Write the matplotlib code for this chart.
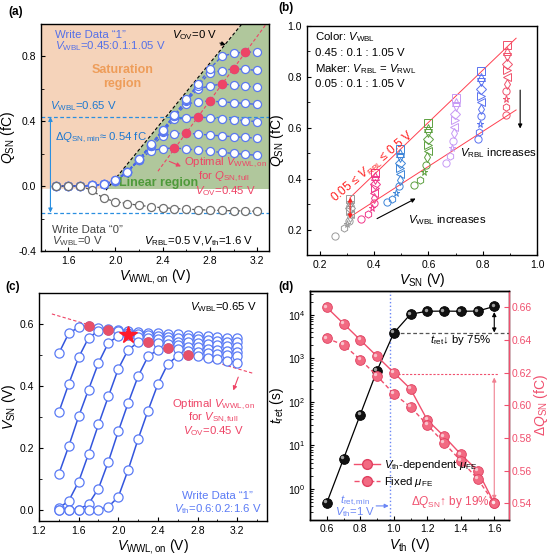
import matplotlib
matplotlib.use("Agg")
import matplotlib.pyplot as plt
import numpy as np
from matplotlib.ticker import MultipleLocator, FormatStrFormatter
from matplotlib.transforms import ScaledTranslation
from matplotlib.lines import Line2D

plt.rcParams["font.family"] = ["Liberation Sans", "DejaVu Sans"]
plt.rcParams["mathtext.fontset"] = "custom"
plt.rcParams["mathtext.rm"] = "Liberation Sans"
plt.rcParams["mathtext.it"] = "Liberation Sans:italic"
plt.rcParams["mathtext.bf"] = "Liberation Sans:bold"
plt.rcParams["font.size"] = 8
plt.rcParams["xtick.direction"] = "in"
plt.rcParams["ytick.direction"] = "in"
plt.rcParams["xtick.labelsize"] = 7.5
plt.rcParams["ytick.labelsize"] = 7.5
plt.rcParams["axes.linewidth"] = 1.0

FS = 8.2  # annotation text size

# ---------------- (a) Q_SN vs V_WWL,on ----------------
vwwl_a = [1.5, 1.6, 1.7, 1.8, 1.9, 2.0, 2.1, 2.2, 2.3, 2.4, 2.5, 2.6, 2.7, 2.8, 2.9, 3.0, 3.1, 3.2]
q1_045 = [0, 0, 0, 0.005, 0.012, 0.03, 0.085, 0.16, 0.218, 0.232, 0.235, 0.229, 0.222, 0.215, 0.208, 0.202, 0.196, 0.19]
q1_055 = [0, 0, 0, 0.005, 0.012, 0.032, 0.087, 0.162, 0.245, 0.31, 0.324, 0.327, 0.321, 0.315, 0.31, 0.305, 0.3, 0.296]
q1_065 = [0, 0, 0, 0.005, 0.012, 0.033, 0.088, 0.163, 0.25, 0.335, 0.412, 0.42, 0.427, 0.42, 0.415, 0.41, 0.404, 0.398]
q1_075 = [0, 0, 0, 0.005, 0.012, 0.034, 0.089, 0.164, 0.252, 0.34, 0.43, 0.505, 0.522, 0.524, 0.52, 0.515, 0.51, 0.504]
q1_085 = [0, 0, 0, 0.005, 0.012, 0.035, 0.09, 0.165, 0.254, 0.343, 0.435, 0.525, 0.6, 0.618, 0.63, 0.624, 0.617, 0.61]
q1_095 = [0, 0, 0, 0.005, 0.012, 0.035, 0.09, 0.165, 0.255, 0.345, 0.438, 0.53, 0.62, 0.70, 0.712, 0.724, 0.72, 0.714]
q1_105 = [0, 0, 0, 0.005, 0.012, 0.035, 0.09, 0.166, 0.257, 0.348, 0.44, 0.535, 0.63, 0.725, 0.80, 0.82, 0.827, 0.827]
q1_curves = [q1_045, q1_055, q1_065, q1_075, q1_085, q1_095, q1_105]
opt_vwwl_a = [2.5, 2.6, 2.7, 2.8, 2.9, 3.0, 3.1]
q0_a = [0, 0, 0, -0.025, -0.075, -0.095, -0.108, -0.118, -0.127, -0.133, -0.138, -0.142, -0.145, -0.148, -0.15, -0.152, -0.153, -0.155]
vov0_line_x = [1.92, 3.07]
vov0_line_y = [-0.025, 1.0]
region_bottom = -0.016

# ---------------- (b) Q_SN vs V_SN ----------------
b_colors = ["#9a9a9a", "#f0388a", "#3d85d8", "#5da040", "#c79af5", "#5a72f0", "#f0506a"]
b_markers = ["s", "^", "v", "D", ">", "<", "d", "o", "*", "h", "o"]
vsn_b = [
    [0.312, 0.312, 0.312, 0.312, 0.312, 0.312, 0.311, 0.308, 0.300, 0.288, 0.257],
    [0.405, 0.405, 0.405, 0.403, 0.402, 0.400, 0.400, 0.398, 0.392, 0.377, 0.352],
    [0.497, 0.497, 0.497, 0.497, 0.496, 0.495, 0.494, 0.490, 0.482, 0.466, 0.448],
    [0.600, 0.600, 0.600, 0.600, 0.598, 0.597, 0.596, 0.593, 0.585, 0.568, 0.547],
    [0.700, 0.700, 0.700, 0.698, 0.697, 0.696, 0.695, 0.692, 0.688, 0.680, 0.665],
    [0.795, 0.795, 0.795, 0.795, 0.794, 0.794, 0.793, 0.792, 0.790, 0.788, 0.783],
    [0.888, 0.888, 0.888, 0.888, 0.888, 0.888, 0.888, 0.887, 0.887, 0.886, 0.885],
]
qsn_b = [
    [0.322, 0.310, 0.298, 0.285, 0.272, 0.260, 0.248, 0.235, 0.220, 0.205, 0.175],
    [0.422, 0.410, 0.395, 0.380, 0.362, 0.345, 0.325, 0.305, 0.285, 0.262, 0.243],
    [0.518, 0.500, 0.480, 0.460, 0.440, 0.418, 0.395, 0.370, 0.345, 0.320, 0.308],
    [0.619, 0.600, 0.578, 0.555, 0.532, 0.510, 0.485, 0.455, 0.425, 0.395, 0.374],
    [0.718, 0.700, 0.680, 0.655, 0.630, 0.605, 0.580, 0.550, 0.520, 0.490, 0.462],
    [0.824, 0.800, 0.778, 0.752, 0.725, 0.700, 0.672, 0.645, 0.615, 0.585, 0.554],
    [0.925, 0.900, 0.878, 0.852, 0.826, 0.800, 0.773, 0.745, 0.715, 0.683, 0.650],
]
upper_b_x, upper_b_y = [0.312, 0.923], [0.326, 0.952]
lower_b_x, lower_b_y = [0.312, 0.923], [0.250, 0.670]

# ---------------- (c) V_SN vs V_WWL,on ----------------
vwwl_c = [1.4, 1.5, 1.6, 1.7, 1.8, 1.9, 2.0, 2.1, 2.2, 2.3, 2.4, 2.5, 2.6, 2.7, 2.8, 2.9, 3.0, 3.1, 3.2]
vsn_c = [
    [0.505, 0.57, 0.589, 0.592, 0.588, 0.585, 0.581, 0.578, 0.575, 0.572, 0.57, 0.568, 0.566, 0.564, 0.562, 0.56, 0.558, 0.556, 0.554],
    [0.315, 0.406, 0.492, 0.555, 0.578, 0.581, 0.576, 0.572, 0.568, 0.565, 0.562, 0.559, 0.556, 0.554, 0.551, 0.548, 0.546, 0.543, 0.540],
    [0.115, 0.205, 0.301, 0.388, 0.474, 0.539, 0.561, 0.563, 0.558, 0.554, 0.55, 0.547, 0.543, 0.54, 0.537, 0.534, 0.531, 0.528, 0.525],
    [0.005, 0.028, 0.09, 0.18, 0.275, 0.366, 0.455, 0.517, 0.54, 0.543, 0.539, 0.535, 0.531, 0.527, 0.524, 0.52, 0.517, 0.513, 0.51],
    [0.0, 0.0, 0.0, 0.018, 0.068, 0.155, 0.253, 0.345, 0.431, 0.495, 0.517, 0.522, 0.518, 0.514, 0.51, 0.506, 0.502, 0.499, 0.495],
    [0.0, 0.0, 0.0, 0.0, 0.0, 0.009, 0.041, 0.129, 0.228, 0.32, 0.406, 0.471, 0.497, 0.499, 0.495, 0.49, 0.486, 0.481, 0.475],
]
opt_vwwl_c = [1.7, 1.9, 2.1, 2.3, 2.5, 2.7]
star_curve_c = 2

# ---------------- (d) t_ret and dQ_SN vs V_th ----------------
vth_d = [0.6, 0.7, 0.8, 0.9, 1.0, 1.1, 1.2, 1.3, 1.4, 1.5, 1.6]
tret_d = [0.48, 4.9, 51, 520, 3800, 10300, 12000, 12100, 12000, 12100, 15500]
dq_dep_d = [0.66, 0.65, 0.64, 0.63, 0.62, 0.61, 0.591, 0.581, 0.570, 0.560, 0.540]
dq_fix_d = [0.641, 0.637, 0.628, 0.618, 0.607, 0.599, 0.588, 0.577, 0.566, 0.555, 0.540]

W, H = 550, 559
fig = plt.figure(figsize=(W / 100, H / 100), dpi=100)


def frac(left, top, right, bottom):
    return [left / W, 1 - bottom / H, (right - left) / W, (bottom - top) / H]


def balls(ax, x, y, color, edge, ms=7, zorder=5):
    ax.plot(x, y, "o", color=color, mec=edge, mew=0.6, ms=ms, ls="none", zorder=zorder)
    off = ScaledTranslation(-1.1 / 72, 1.1 / 72, fig.dpi_scale_trans)
    ax.plot(x, y, "o", color="white", alpha=0.6, mec="none", ms=ms * 0.35, ls="none",
            transform=ax.transData + off, zorder=zorder + 0.1)


def arrow(ax, tip, tail, color, style="-|>"):
    ax.annotate("", xy=tip, xytext=tail,
                arrowprops=dict(arrowstyle=style, color=color, lw=0.8, mutation_scale=6,
                                shrinkA=0, shrinkB=0))


ax_a = fig.add_axes(frac(41, 24, 269, 251))
ax_b = fig.add_axes(frac(307, 26, 537, 255))
ax_c = fig.add_axes(frac(39, 293, 267, 521))
ax_d = fig.add_axes(frac(310, 291, 508.5, 519.5))

# ===== (a) =====
ax = ax_a
xmin_a, xmax_a, ymin_a, ymax_a = 1.37, 3.3, -0.4, 1.0
slope = (vov0_line_y[1] - vov0_line_y[0]) / (vov0_line_x[1] - vov0_line_x[0])
xb = vov0_line_x[0] + (region_bottom - vov0_line_y[0]) / slope
xt = vov0_line_x[0] + (ymax_a - vov0_line_y[0]) / slope
ax.fill([xmin_a, xb, xt, xmin_a], [region_bottom, region_bottom, ymax_a, ymax_a],
        color="#f5d3ba", lw=0, zorder=0)
ax.fill([xb, xmax_a, xmax_a, xt], [region_bottom, region_bottom, ymax_a, ymax_a],
        color="#b0c79c", lw=0, zorder=0)
ax.plot(vov0_line_x, vov0_line_y, "--", color="k", lw=0.8, dashes=(3, 2), zorder=2)

for q in q1_curves:
    ax.plot(vwwl_a, q, "--", color="#4a68e8", lw=1.0, dashes=(2.5, 1.5), zorder=3)
    ax.plot(vwwl_a, q, "o", mfc="white", mec="#5a78f0", mew=0.9, ms=5.8, ls="none", zorder=4)
opt_q = [q[vwwl_a.index(v)] for q, v in zip(q1_curves, opt_vwwl_a)]
ax.plot(opt_vwwl_a, opt_q, "o", color="#ee4466", mec="#ee4466", ms=5.8, ls="none", zorder=5)
fit = np.polyfit(opt_vwwl_a, opt_q, 1)
fx = np.array([2.36, 3.27])
ax.plot(fx, np.polyval(fit, fx), "--", color="#ee4466", lw=0.8, dashes=(3, 2), zorder=2)

ax.plot(vwwl_a, q0_a, "--", color="#555555", lw=0.9, dashes=(2.5, 1.5), zorder=3)
ax.plot(vwwl_a, q0_a, "o", mfc="white", mec="#707070", mew=0.9, ms=5.8, ls="none", zorder=4)

ax.axhline(0.427, color="#2a8fe0", ls="--", lw=0.9, dashes=(3, 2), zorder=2)
ax.axhline(-0.163, color="#2a8fe0", ls="--", lw=0.9, dashes=(3, 2), zorder=2)
arrow(ax, (1.45, 0.427), (1.45, -0.163), "#2a8fe0", "<|-|>")

ax.text(1.49, 0.933, "Write Data \u201c1\u201d", color="#5570e8", fontsize=FS, va="center")
ax.text(1.49, 0.861, r"$V_{\rm WBL}$=0.45:0.1:1.05 V", color="#5570e8", fontsize=FS, va="center")
ax.text(2.06, 0.718, "Saturation", color="#ee9d5a", fontsize=9, fontweight="bold", ha="center", va="center")
ax.text(2.06, 0.63, "region", color="#ee9d5a", fontsize=9, fontweight="bold", ha="center", va="center")
ax.text(1.445, 0.494, r"$V_{\rm WBL}$=0.65 V", color="#1e78d0", fontsize=FS, va="center")
ax.text(1.49, 0.30, r"Δ$Q_{\rm SN,min}$≈ 0.54 fC", color="#1e78d0", fontsize=FS, va="center")
ax.text(2.03, 0.018, "Linear region", color="#4e9a3a", fontsize=9, fontweight="bold", va="center")
ax.annotate(r"$V_{\rm OV}$=0 V", xy=(2.934, 0.871), xytext=(2.48, 0.933), va="center", fontsize=FS,
            arrowprops=dict(arrowstyle="-|>", color="k", lw=0.8, mutation_scale=6, shrinkA=0, shrinkB=0))
arrow(ax, (2.555, 0.122), (2.456, 0.153), "#ee4466")
ax.text(2.934, 0.142, r"Optimal $V_{\rm WWL,on}$", color="#ee4466", fontsize=FS, ha="center", va="center")
ax.text(2.92, 0.055, r"for $Q_{\rm SN,full}$", color="#ee4466", fontsize=FS, ha="center", va="center")
ax.text(2.934, -0.03, r"$V_{\rm OV}$=0.45 V", color="#ee4466", fontsize=FS, ha="center", va="center")
ax.text(1.46, -0.268, "Write Data \u201c0\u201d", color="#444444", fontsize=FS, va="center")
ax.text(1.46, -0.338, r"$V_{\rm WBL}$=0 V", color="#444444", fontsize=FS, va="center")
ax.text(3.17, -0.338, r"$V_{\rm RBL}$=0.5 V,$V_{\rm th}$=1.6 V", color="k", fontsize=FS, ha="right", va="center")

ax.set_xlim(xmin_a, xmax_a)
ax.set_ylim(ymin_a, ymax_a)
ax.set_xticks([1.6, 2.0, 2.4, 2.8, 3.2])
ax.xaxis.set_minor_locator(MultipleLocator(0.2))
ax.set_yticks([-0.4, 0.0, 0.4, 0.8])
ax.yaxis.set_minor_locator(MultipleLocator(0.2))
ax.yaxis.set_major_formatter(FormatStrFormatter("%.1f"))
ax.set_xlabel(r"$V_{\rm WWL,on}$ (V)", fontsize=10, labelpad=1)
ax.set_ylabel(r"$Q_{\rm SN}$ (fC)", fontsize=10, labelpad=1)

# ===== (b) =====
ax = ax_b
for c, xs, qs in zip(b_colors, vsn_b, qsn_b):
    for m, xv, qv in zip(b_markers, xs, qs):
        ax.plot(xv, qv, m, mfc="none", mec=c, mew=0.7, ms=5.2, zorder=3)
ax.plot(upper_b_x, upper_b_y, "-", color="#ff4050", lw=0.7, zorder=2)
ax.plot(lower_b_x, lower_b_y, "-", color="#ff4050", lw=0.7, zorder=2)
arrow(ax, (0.312, 0.326), (0.312, 0.243), "#ff2020", "<|-|>")
ax.text(0.395, 0.447, r"0.05 ≤ $V_{\rm RBL}$ ≤ 0.5 V", color="#ff2020", fontsize=8.6,
        rotation=40, ha="center", va="center")
arrow(ax, (0.553, 0.322), (0.411, 0.243), "k")
ax.text(0.671, 0.239, r"$V_{\rm WBL}$ increases", fontsize=FS, ha="center", va="center")
arrow(ax, (0.938, 0.597), (0.938, 0.748), "k")
ax.text(0.857, 0.50, r"$V_{\rm RBL}$ increases", fontsize=FS, ha="center", va="center")
ax.text(0.184, 0.955, r"Color: $V_{\rm WBL}$", fontsize=FS, va="center")
ax.text(0.184, 0.892, "0.45 : 0.1 : 1.05 V", fontsize=FS, va="center")
ax.text(0.184, 0.830, r"Maker: $V_{\rm RBL}$ = $V_{\rm RWL}$", fontsize=FS, va="center")
ax.text(0.184, 0.772, "0.05 : 0.1 : 1.05 V", fontsize=FS, va="center")
ax.set_xlim(0.153, 1.0)
ax.set_ylim(0.1, 1.0)
ax.xaxis.set_major_locator(MultipleLocator(0.2))
ax.xaxis.set_minor_locator(MultipleLocator(0.1))
ax.yaxis.set_major_locator(MultipleLocator(0.2))
ax.yaxis.set_minor_locator(MultipleLocator(0.1))
ax.xaxis.set_major_formatter(FormatStrFormatter("%.1f"))
ax.yaxis.set_major_formatter(FormatStrFormatter("%.1f"))
ax.set_xlabel(r"$V_{\rm SN}$ (V)", fontsize=10, labelpad=1)
ax.set_ylabel(r"$Q_{\rm SN}$ (fC)", fontsize=10, labelpad=1)

# ===== (c) =====
ax = ax_c
for v in vsn_c:
    ax.plot(vwwl_c, v, "-", color="#3355dd", lw=1.1, zorder=2)
    ax.plot(vwwl_c, v, "o", mfc="white", mec="#5b7bf5", mew=0.9, ms=6.6, ls="none", zorder=3)
opt_v = [v[vwwl_c.index(x)] for v, x in zip(vsn_c, opt_vwwl_c)]
dots = [i for i in range(len(opt_v)) if i != star_curve_c]
ax.plot([opt_vwwl_c[i] for i in dots], [opt_v[i] for i in dots], "o", color="#e85068",
        mec="#e85068", ms=6.6, ls="none", zorder=4)
ax.plot(opt_vwwl_c[star_curve_c], opt_v[star_curve_c], "*", color="#ff1a2a", mec="#ff1a2a", ms=13, zorder=5)
fit = np.polyfit(opt_vwwl_c, opt_v, 1)
fx = np.array([1.33, 3.36])
ax.plot(fx, np.polyval(fit, fx), "--", color="#ee4466", lw=0.8, dashes=(3, 2), zorder=1)
arrow(ax, (3.16, 0.385), (3.21, 0.428), "#ee4466")
ax.text(2.96, 0.34, r"Optimal $V_{\rm WWL,on}$", color="#ee4466", fontsize=FS, ha="center", va="center")
ax.text(2.96, 0.297, r"for $V_{\rm SN,full}$", color="#ee4466", fontsize=FS, ha="center", va="center")
ax.text(2.96, 0.254, r"$V_{\rm OV}$=0.45 V", color="#ee4466", fontsize=FS, ha="center", va="center")
ax.text(3.395, 0.655, r"$V_{\rm WBL}$=0.65 V", fontsize=FS, ha="right", va="center")
ax.text(3.0, 0.043, "Write Data \u201c1\u201d", color="#5b7bf5", fontsize=FS, ha="center", va="center")
ax.text(3.0, 0.003, r"$V_{\rm th}$=0.6:0.2:1.6 V", color="#5b7bf5", fontsize=FS, ha="center", va="center")
ax.set_xlim(1.2, 3.5)
ax.set_ylim(-0.037, 0.7)
ax.set_xticks([1.2, 1.6, 2.0, 2.4, 2.8, 3.2])
ax.xaxis.set_minor_locator(MultipleLocator(0.2))
ax.yaxis.set_major_locator(MultipleLocator(0.2))
ax.yaxis.set_minor_locator(MultipleLocator(0.1))
ax.yaxis.set_major_formatter(FormatStrFormatter("%.1f"))
ax.set_xlabel(r"$V_{\rm WWL,on}$ (V)", fontsize=10, labelpad=1)
ax.set_ylabel(r"$V_{\rm SN}$ (V)", fontsize=10, labelpad=1)

# ===== (d) =====
ax = ax_d
red = "#f0506e"
ax.plot(vth_d, tret_d, "-", color="k", lw=0.9, zorder=3)
balls(ax, vth_d, tret_d, "#111111", "k", ms=7)
ax.set_yscale("log")
ax.set_xlim(0.5, 1.685)
ax.set_ylim(0.2, 3.5e4)
ax.axvline(0.975, color="#6a86f5", ls=":", lw=1.0, zorder=1)
ax.plot([1.0, 1.685], [3800, 3800], "--", color="#555555", lw=0.9, dashes=(3, 2), zorder=1)
arrow(ax, (1.6, 11500), (1.6, 3900), "k", "<|-|>")
ax.text(1.215, 2600, r"$t_{\rm ret}$↓ by 75%", fontsize=FS, va="center")
ax.text(0.77, 0.53, r"$t_{\rm ret,min}$", color="#6a86f5", fontsize=FS, ha="center", va="center")
ax.text(0.77, 0.29, r"$V_{\rm th}$=1 V", color="#6a86f5", fontsize=FS, ha="center", va="center")
arrow(ax, (0.97, 0.41), (0.895, 0.41), "#6a86f5")
ax.xaxis.set_major_locator(MultipleLocator(0.2))
ax.xaxis.set_minor_locator(MultipleLocator(0.1))
ax.xaxis.set_major_formatter(FormatStrFormatter("%.1f"))
ax.set_xlabel(r"$V_{\rm th}$ (V)", fontsize=10, labelpad=1)
ax.set_ylabel(r"$t_{\rm ret}$ (s)", fontsize=10, labelpad=1)

ax2 = ax.twinx()
ax2.plot(vth_d, dq_dep_d, "-", color=red, lw=1.0, zorder=3)
ax2.plot(vth_d, dq_fix_d, "--", color=red, lw=1.0, dashes=(3, 2), zorder=3)
balls(ax2, vth_d, dq_dep_d, "#f26a82", "#e04060", ms=7)
balls(ax2, vth_d, dq_fix_d, "#f26a82", "#e04060", ms=7)
ax2.set_ylim(0.53, 0.67)
ax2.plot([1.0, 1.62], [0.619, 0.619], "--", color=red, lw=0.8, dashes=(2, 1.5), zorder=1)
arrow(ax2, (1.6, 0.617), (1.6, 0.542), "#f08090", "<|-|>")
ax2.text(1.1, 0.541, r"Δ$Q_{\rm SN}$↑ by 19%", color=red, fontsize=8.5, va="center")
ax2.yaxis.set_major_locator(MultipleLocator(0.02))
ax2.yaxis.set_major_formatter(FormatStrFormatter("%.2f"))
ax2.spines["right"].set_color(red)
ax2.tick_params(axis="y", colors=red, direction="in", pad=2)
ax2.set_ylabel(r"Δ$Q_{\rm SN}$ (fC)", color=red, fontsize=10, labelpad=0)
h1 = Line2D([], [], color=red, ls="-", marker="o", mfc="#f26a82", mec="#e04060", ms=7, lw=1.0)
h2 = Line2D([], [], color=red, ls="--", marker="o", mfc="#f26a82", mec="#e04060", ms=7, lw=1.0)
ax2.legend([h1, h2], [r"$V_{\rm th}$-dependent $\mu_{\rm FE}$", r"Fixed $\mu_{\rm FE}$"],
           loc="lower left", bbox_to_anchor=(0.18, 0.1), frameon=False, fontsize=FS,
           handlelength=2.3, handletextpad=0.4, labelspacing=0.25, borderpad=0.2)

for ax in (ax_a, ax_b, ax_c, ax_d):
    ax.tick_params(which="major", length=3, width=0.8)
    ax.tick_params(which="minor", length=1.8, width=0.6)

fig.text(8 / W, 1 - 12 / H, "(a)", fontsize=8.5, fontweight="bold", va="center")
fig.text(278 / W, 1 - 8 / H, "(b)", fontsize=8.5, fontweight="bold", va="center")
fig.text(5 / W, 1 - 287 / H, "(c)", fontsize=8.5, fontweight="bold", va="center")
fig.text(278 / W, 1 - 287 / H, "(d)", fontsize=8.5, fontweight="bold", va="center")

fig.savefig("out.png", dpi=100)
